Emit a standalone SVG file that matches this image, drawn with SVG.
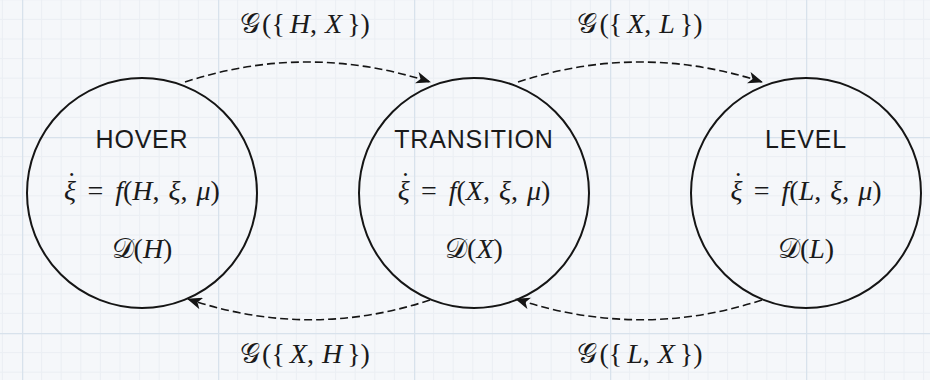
<svg xmlns="http://www.w3.org/2000/svg" width="930" height="380" viewBox="0 0 930 380">
<style>
.node{fill:none;stroke:#151515;stroke-width:2}
.conn{fill:none;stroke:#151515;stroke-width:1.6;stroke-dasharray:8 4}
.title{font-family:"Liberation Sans","DejaVu Sans",sans-serif;font-size:25px;letter-spacing:0.8px;fill:#1a1a1a;text-anchor:middle}
.math{font-family:"Liberation Serif","DejaVu Serif",serif;font-size:28px;fill:#1a1a1a;text-anchor:middle}
.it{font-style:italic}
.cal{font-family:"DejaVu Sans","Noto Sans",serif;font-style:normal}
</style>
<defs>
<pattern id="grid" patternUnits="userSpaceOnUse" x="22" y="137" width="196" height="196">
<rect width="196" height="196" fill="#f5f7fa"/>
<path d="M19.6 0V196M39.2 0V196M58.8 0V196M78.4 0V196M98 0V196M117.6 0V196M137.2 0V196M156.8 0V196M176.4 0V196M0 19.6H196M0 39.2H196M0 58.8H196M0 78.4H196M0 98H196M0 117.6H196M0 137.2H196M0 156.8H196M0 176.4H196" stroke="#ebeff4" stroke-width="1" fill="none"/>
<path d="M0.5 0V196M0 0.5H196" stroke="#d8e2ec" stroke-width="1.5" fill="none"/>
</pattern>
<marker id="arr" markerWidth="16" markerHeight="12" refX="14" refY="6" orient="auto" markerUnits="userSpaceOnUse">
<path d="M0,0 L15,6 L0,12 L4,6 Z" fill="#151515"/>
</marker>
</defs>
<rect width="930" height="380" fill="url(#grid)"/>
<g id="connectors">
<path class="conn" d="M185,82 Q307,42 430,82" marker-end="url(#arr)"/>
<path class="conn" d="M518,82 Q640,42 762,82" marker-end="url(#arr)"/>
<path class="conn" d="M430,300 Q309,340 188,299" marker-end="url(#arr)"/>
<path class="conn" d="M762,300 Q640,340 516,299" marker-end="url(#arr)"/>
</g>
<g id="label-HX"><text class="math" x="305" y="33"><tspan class="cal">𝒢</tspan><tspan dx="2">({</tspan><tspan class="it" dx="5">H</tspan>,<tspan class="it" dx="8">X</tspan><tspan dx="5">})</tspan></text></g>
<g id="label-XL"><text class="math" x="640" y="33"><tspan class="cal">𝒢</tspan><tspan dx="2">({</tspan><tspan class="it" dx="5">X</tspan>,<tspan class="it" dx="8">L</tspan><tspan dx="5">})</tspan></text></g>
<g id="label-XH"><text class="math" x="305" y="363"><tspan class="cal">𝒢</tspan><tspan dx="2">({</tspan><tspan class="it" dx="5">X</tspan>,<tspan class="it" dx="8">H</tspan><tspan dx="5">})</tspan></text></g>
<g id="label-LX"><text class="math" x="640" y="363"><tspan class="cal">𝒢</tspan><tspan dx="2">({</tspan><tspan class="it" dx="5">L</tspan>,<tspan class="it" dx="8">X</tspan><tspan dx="5">})</tspan></text></g>
<g id="hover">
<circle class="node" cx="142" cy="193" r="115"/>
<text class="title" x="142" y="148">HOVER</text>
<text class="math" x="142" y="200"><tspan class="it">ξ</tspan><tspan dx="-9" dy="-9">˙</tspan><tspan dx="11" dy="9">=</tspan><tspan class="it" dx="12">f</tspan>(<tspan class="it">H</tspan>,<tspan class="it" dx="9">ξ</tspan>,<tspan class="it" dx="9">μ</tspan>)</text>
<text class="math" x="142" y="258"><tspan class="cal">𝒟</tspan>(<tspan class="it">H</tspan>)</text>
</g>
<g id="transition">
<circle class="node" cx="474" cy="193" r="115"/>
<text class="title" x="474" y="148">TRANSITION</text>
<text class="math" x="474" y="200"><tspan class="it">ξ</tspan><tspan dx="-9" dy="-9">˙</tspan><tspan dx="11" dy="9">=</tspan><tspan class="it" dx="12">f</tspan>(<tspan class="it">X</tspan>,<tspan class="it" dx="9">ξ</tspan>,<tspan class="it" dx="9">μ</tspan>)</text>
<text class="math" x="474" y="258"><tspan class="cal">𝒟</tspan>(<tspan class="it">X</tspan>)</text>
</g>
<g id="level">
<circle class="node" cx="806" cy="193" r="115"/>
<text class="title" x="806" y="148">LEVEL</text>
<text class="math" x="806" y="200"><tspan class="it">ξ</tspan><tspan dx="-9" dy="-9">˙</tspan><tspan dx="11" dy="9">=</tspan><tspan class="it" dx="12">f</tspan>(<tspan class="it">L</tspan>,<tspan class="it" dx="9">ξ</tspan>,<tspan class="it" dx="9">μ</tspan>)</text>
<text class="math" x="806" y="258"><tspan class="cal">𝒟</tspan>(<tspan class="it">L</tspan>)</text>
</g>
</svg>
